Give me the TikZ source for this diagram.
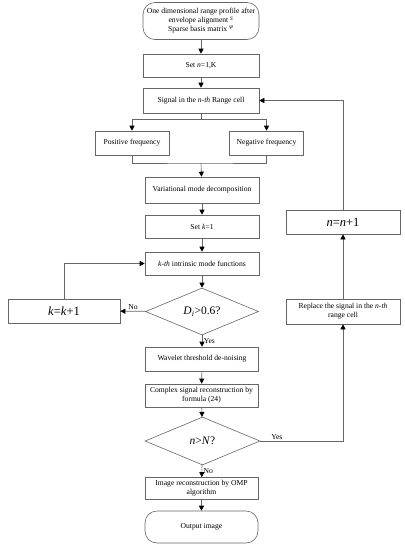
\documentclass[tikz,border=0pt]{standalone}
\usepackage{fontspec}
\setmainfont{Liberation Serif}
\usetikzlibrary{arrows.meta,shapes.geometric}

\begin{document}
\begin{tikzpicture}[x=1pt,y=-1pt,
  line/.style={draw=black!60, line width=0.6pt},
  arr/.style={line, -{Triangle[length=5pt,width=5pt,black]}},
  box/.style={line, rectangle, minimum width=116pt, minimum height=24pt, inner sep=1pt, align=center, font=\fontsize{7.6}{9}\selectfont},
  term/.style={box, rounded corners=12pt},
  dec/.style={line, diamond, aspect=2.4, inner sep=0pt, minimum width=113pt, minimum height=47pt, font=\fontsize{11.5}{13}\selectfont},
  big/.style={font=\fontsize{12.5}{14}\selectfont},
  lbl/.style={font=\fontsize{7.6}{9}\selectfont, inner sep=1.5pt}]
\useasboundingbox (0,0) rectangle (405,550);
\node (start) at (201,21) [term, minimum height=37pt] {One dimensional range profile after\\envelope alignment \textsuperscript{\textit{S}}\\Sparse basis matrix \textsuperscript{\textit{Ψ}}};
\node (setn) at (201,65.5) [box, minimum height=23pt] {Set \textit{n}=1,K};
\node (sig) at (201,100.5) [box, minimum height=25pt] {Signal in the \textit{n-th} Range cell};
\node (pos) at (132,143) [box, minimum width=74pt] {Positive frequency};
\node (neg) at (266.5,143) [box, minimum width=74pt] {Negative frequency};
\node (vmd) at (202,190) [box, minimum width=114pt, minimum height=26pt] {Variational mode decomposition};
\node (setk) at (202,226.5) [box, minimum width=114pt, minimum height=23pt] {Set \textit{k}=1};
\node (imf) at (202,263.5) [box, minimum width=114pt, minimum height=23pt] {\textit{k-th} intrinsic mode functions};
\node (d1) at (202,311.5) [dec] {\textit{D}\textsubscript{\textit{i}}>0.6?};
\node (kinc) at (64,311) [box, big, minimum width=112pt] {\textit{k}=\textit{k}+1};
\node (wav) at (202,359) [box, minimum width=113pt] {Wavelet threshold de-noising};
\node (cplx) at (201.5,395.5) [box, minimum width=113pt, minimum height=23pt] {Complex signal reconstruction by\\formula (24)};
\node (d2) at (202.5,441) [dec, minimum width=115pt, minimum height=48pt] {\textit{n}>\textit{N}?};
\node (img) at (201.5,488.5) [box, minimum width=113pt, minimum height=22pt] {Image reconstruction by OMP\\algorithm};
\node (out) at (201.5,527) [term, minimum width=113pt, minimum height=32pt] {Output image};
\node (rep) at (343,311.5) [box, minimum width=114pt, minimum height=25pt] {Replace the signal in the \textit{n-th}\\range cell};
\node (ninc) at (343,222) [box, big, minimum width=114pt] {\textit{n}=\textit{n}+1};
\coordinate (split) at (201,119);
\coordinate (merge) at (201,163);
\draw[arr] (start) -- (setn);
\draw[arr] (setn) -- (sig);
\draw[line] (sig) -- (split);
\draw[arr] (split) -| (pos);
\draw[arr] (split) -| (neg);
\draw[line] (pos) |- (merge) -| (neg);
\draw[arr] (merge) -- (vmd);
\draw[arr] (vmd) -- (setk);
\draw[arr] (setk) -- (imf);
\draw[arr] (imf) -- (d1);
\draw[arr] (d1) -- node[lbl, above] {No} (kinc);
\draw[arr] (kinc) |- (imf);
\draw[arr] (d1) -- node[lbl, right] {Yes} (wav);
\draw[arr] (wav) -- (cplx);
\draw[arr] (cplx) -- (d2);
\draw[arr] (d2) -- node[lbl, right] {No} (img);
\draw[arr] (img) -- (out);
\draw[arr] (d2) -| node[lbl, above, pos=0.1] {Yes} (rep);
\draw[arr] (rep) -- (ninc);
\draw[arr] (ninc) |- (sig);
\end{tikzpicture}
\end{document}
